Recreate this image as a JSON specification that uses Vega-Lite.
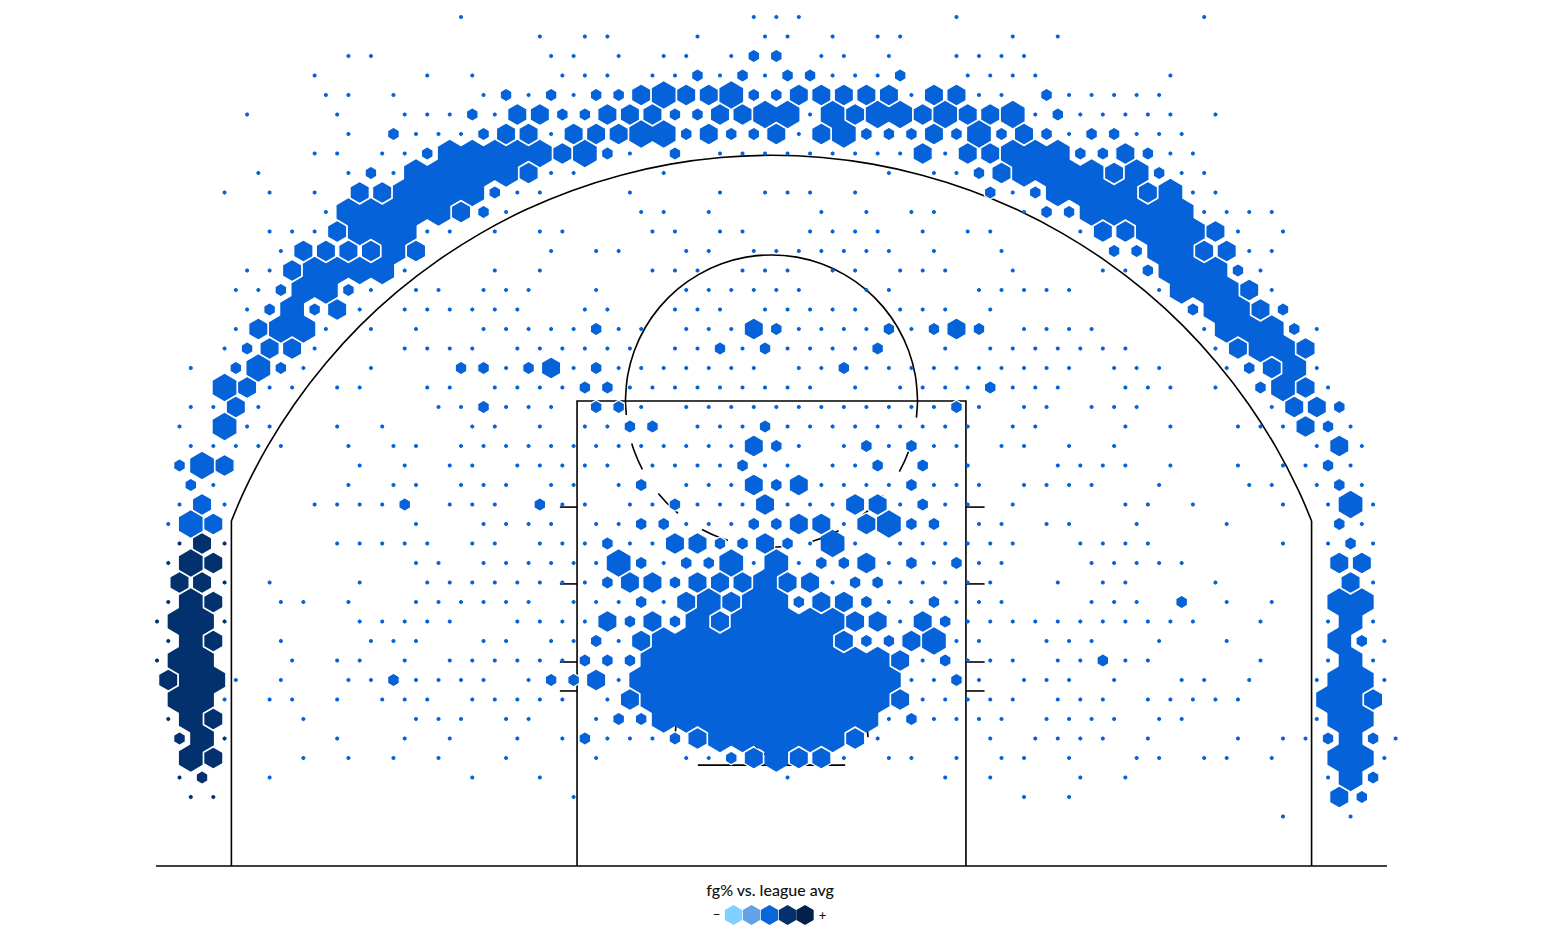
{"$schema":"https://vega.github.io/schema/vega-lite/v6.json","width":1541,"height":945,"padding":0,"autosize":{"type":"none"},"background":"#ffffff","view":{"stroke":null},
"datasets":{
"court":[
{"part":"base","o":0,"x":-25.07,"y":0},{"part":"base","o":1,"x":25.07,"y":0},
{"part":"paint","o":0,"x":-7.92,"y":0},{"part":"paint","o":1,"x":-7.92,"y":18.94},{"part":"paint","o":2,"x":7.92,"y":18.94},{"part":"paint","o":3,"x":7.92,"y":0},
{"part":"board","o":0,"x":-3,"y":4.11},{"part":"board","o":1,"x":3,"y":4.11},
{"part":"t1","o":0,"x":-8.62,"y":14.62},{"part":"t1","o":1,"x":-7.92,"y":14.62},{"part":"t2","o":0,"x":-8.62,"y":11.49},{"part":"t2","o":1,"x":-7.92,"y":11.49},{"part":"t3","o":0,"x":-8.62,"y":8.31},{"part":"t3","o":1,"x":-7.92,"y":8.31},{"part":"t4","o":0,"x":-8.62,"y":7.13},{"part":"t4","o":1,"x":-7.92,"y":7.13},
{"part":"t5","o":0,"x":7.92,"y":14.62},{"part":"t5","o":1,"x":8.68,"y":14.62},{"part":"t6","o":0,"x":7.92,"y":11.49},{"part":"t6","o":1,"x":8.68,"y":11.49},{"part":"t7","o":0,"x":7.92,"y":8.31},{"part":"t7","o":1,"x":8.68,"y":8.31},{"part":"t8","o":0,"x":7.92,"y":7.13},{"part":"t8","o":1,"x":8.68,"y":7.13},
{"part":"cl","o":0,"x":-22,"y":0},{"part":"cl","o":1,"x":-22,"y":14.05},{"part":"cr","o":0,"x":22,"y":0},{"part":"cr","o":1,"x":22,"y":14.05}
],
"curves":[
{"part":"arc","o":1,"x":-22,"y":14.05},{"part":"arc","o":2,"x":-21.48,"y":15.27},{"part":"arc","o":3,"x":-20.525,"y":17.1},{"part":"arc","o":4,"x":-19.414,"y":18.84},{"part":"arc","o":5,"x":-18.155,"y":20.48},{"part":"arc","o":6,"x":-16.758,"y":22.01},{"part":"arc","o":7,"x":-15.234,"y":23.405},{"part":"arc","o":8,"x":-13.594,"y":24.66},{"part":"arc","o":9,"x":-11.85,"y":25.77},{"part":"arc","o":10,"x":-10.016,"y":26.73},{"part":"arc","o":11,"x":-8.106,"y":27.52},{"part":"arc","o":12,"x":-6.134,"y":28.14},{"part":"arc","o":13,"x":-4.115,"y":28.59},{"part":"arc","o":14,"x":-2.066,"y":28.86},{"part":"arc","o":15,"x":0,"y":28.95},{"part":"arc","o":16,"x":2.066,"y":28.86},{"part":"arc","o":17,"x":4.115,"y":28.59},{"part":"arc","o":18,"x":6.134,"y":28.14},{"part":"arc","o":19,"x":8.106,"y":27.52},{"part":"arc","o":20,"x":10.016,"y":26.73},{"part":"arc","o":21,"x":11.85,"y":25.77},{"part":"arc","o":22,"x":13.594,"y":24.66},{"part":"arc","o":23,"x":15.234,"y":23.405},{"part":"arc","o":24,"x":16.758,"y":22.01},{"part":"arc","o":25,"x":18.155,"y":20.48},{"part":"arc","o":26,"x":19.414,"y":18.84},{"part":"arc","o":27,"x":20.525,"y":17.1},{"part":"arc","o":28,"x":21.48,"y":15.27},{"part":"arc","o":29,"x":22,"y":14.05},
{"part":"ftup","o":0,"x":-5.95,"y":18.94},{"part":"ftup","o":1,"x":-5.86,"y":19.97},{"part":"ftup","o":2,"x":-5.591,"y":20.975},{"part":"ftup","o":3,"x":-5.153,"y":21.915},{"part":"ftup","o":4,"x":-4.558,"y":22.765},{"part":"ftup","o":5,"x":-3.825,"y":23.5},{"part":"ftup","o":6,"x":-2.975,"y":24.09},{"part":"ftup","o":7,"x":-2.035,"y":24.53},{"part":"ftup","o":8,"x":-1.033,"y":24.8},{"part":"ftup","o":9,"x":0,"y":24.89},{"part":"ftup","o":10,"x":1.033,"y":24.8},{"part":"ftup","o":11,"x":2.035,"y":24.53},{"part":"ftup","o":12,"x":2.975,"y":24.09},{"part":"ftup","o":13,"x":3.825,"y":23.5},{"part":"ftup","o":14,"x":4.558,"y":22.765},{"part":"ftup","o":15,"x":5.153,"y":21.915},{"part":"ftup","o":16,"x":5.591,"y":20.975},{"part":"ftup","o":17,"x":5.86,"y":19.97},{"part":"ftup","o":18,"x":5.95,"y":18.94},
{"part":"ra","o":0,"x":-3.93,"y":5.25},{"part":"ra","o":1,"x":-3.8,"y":6.27},{"part":"ra","o":2,"x":-3.4,"y":7.22},{"part":"ra","o":3,"x":-2.78,"y":8.03},{"part":"ra","o":4,"x":-1.97,"y":8.65},{"part":"ra","o":5,"x":-1.02,"y":9.05},{"part":"ra","o":6,"x":0,"y":9.18},{"part":"ra","o":7,"x":1.02,"y":9.05},{"part":"ra","o":8,"x":1.97,"y":8.65},{"part":"ra","o":9,"x":2.78,"y":8.03},{"part":"ra","o":10,"x":3.4,"y":7.22},{"part":"ra","o":11,"x":3.8,"y":6.27},{"part":"ra","o":12,"x":3.93,"y":5.25},
{"part":"rim","o":0,"x":-0.75,"y":5.25},{"part":"rim","o":1,"x":-0.65,"y":4.88},{"part":"rim","o":2,"x":-0.38,"y":4.6},{"part":"rim","o":3,"x":0,"y":4.5},{"part":"rim","o":4,"x":0.38,"y":4.6},{"part":"rim","o":5,"x":0.65,"y":4.88},{"part":"rim","o":6,"x":0.75,"y":5.25}
],
"lower":[{"o":0,"x":-5.95,"y":18.94},{"o":1,"x":-5.86,"y":17.91},{"o":2,"x":-5.591,"y":16.905},{"o":3,"x":-5.153,"y":15.965},{"o":4,"x":-4.558,"y":15.115},{"o":5,"x":-3.825,"y":14.38},{"o":6,"x":-2.975,"y":13.79},{"o":7,"x":-2.035,"y":13.35},{"o":8,"x":-1.033,"y":13.08},{"o":9,"x":0,"y":12.99},{"o":10,"x":1.033,"y":13.08},{"o":11,"x":2.035,"y":13.35},{"o":12,"x":2.975,"y":13.79},{"o":13,"x":3.825,"y":14.38},{"o":14,"x":4.558,"y":15.115},{"o":15,"x":5.153,"y":15.965},{"o":16,"x":5.591,"y":16.905},{"o":17,"x":5.86,"y":17.91},{"o":18,"x":5.95,"y":18.94}],
"key":[{"x":51.2,"y":46.05,"p":1},{"x":52.8,"y":46.05,"p":2},{"x":54.4,"y":46.05,"p":3},{"x":56,"y":46.05,"p":4},{"x":57.55,"y":46.05,"p":5}],
"labels":[{"x":54.45,"y":44.82,"t":"fg% vs. league avg","z":16},{"x":49.7,"y":46.05,"t":"–","z":14},{"x":59.1,"y":46.1,"t":"+","z":13}],
"hex":[
{"x":27,"y":0,"n":1},{"x":53,"y":0,"n":1},{"x":55,"y":0,"n":1},{"x":57,"y":0,"n":1},{"x":71,"y":0,"n":1},{"x":93,"y":0,"n":1},
{"x":34,"y":1,"n":1},{"x":38,"y":1,"n":1},{"x":40,"y":1,"n":1},{"x":48,"y":1,"n":1},{"x":54,"y":1,"n":1},{"x":56,"y":1,"n":1},{"x":60,"y":1,"n":1},{"x":64,"y":1,"n":1},{"x":66,"y":1,"n":1},{"x":76,"y":1,"n":1},{"x":80,"y":1,"n":1},
{"x":17,"y":2,"n":1},{"x":19,"y":2,"n":1},{"x":35,"y":2,"n":1},{"x":37,"y":2,"n":1},{"x":41,"y":2,"n":1},{"x":45,"y":2,"n":1},{"x":47,"y":2,"n":1},{"x":51,"y":2,"n":1},{"x":53,"y":2,"n":2},{"x":55,"y":2,"n":2},{"x":59,"y":2,"n":1},{"x":61,"y":2,"n":1},{"x":65,"y":2,"n":1},{"x":71,"y":2,"n":1},{"x":73,"y":2,"n":1},{"x":75,"y":2,"n":1},{"x":77,"y":2,"n":1},
{"x":14,"y":3,"n":1},{"x":24,"y":3,"n":1},{"x":28,"y":3,"n":1},{"x":36,"y":3,"n":1},{"x":38,"y":3,"n":1},{"x":40,"y":3,"n":1},{"x":44,"y":3,"n":1},{"x":46,"y":3,"n":1},{"x":48,"y":3,"n":2},{"x":50,"y":3,"n":1},{"x":52,"y":3,"n":2},{"x":54,"y":3,"n":1},{"x":56,"y":3,"n":2},{"x":58,"y":3,"n":2},{"x":60,"y":3,"n":1},{"x":62,"y":3,"n":1},{"x":64,"y":3,"n":1},{"x":66,"y":3,"n":2},{"x":72,"y":3,"n":1},{"x":74,"y":3,"n":1},{"x":76,"y":3,"n":1},{"x":78,"y":3,"n":1},{"x":90,"y":3,"n":1},
{"x":15,"y":4,"n":1},{"x":17,"y":4,"n":1},{"x":21,"y":4,"n":1},{"x":29,"y":4,"n":1},{"x":31,"y":4,"n":2},{"x":33,"y":4,"n":1},{"x":35,"y":4,"n":2},{"x":37,"y":4,"n":1},{"x":39,"y":4,"n":2},{"x":41,"y":4,"n":2},{"x":43,"y":4,"n":3},{"x":45,"y":4,"n":4},{"x":47,"y":4,"n":3},{"x":49,"y":4,"n":3},{"x":51,"y":4,"n":4},{"x":53,"y":4,"n":2},{"x":55,"y":4,"n":2},{"x":57,"y":4,"n":3},{"x":59,"y":4,"n":3},{"x":61,"y":4,"n":3},{"x":63,"y":4,"n":3},{"x":65,"y":4,"n":3},{"x":67,"y":4,"n":1},{"x":69,"y":4,"n":3},{"x":71,"y":4,"n":3},{"x":73,"y":4,"n":1},{"x":75,"y":4,"n":1},{"x":79,"y":4,"n":2},{"x":81,"y":4,"n":1},{"x":83,"y":4,"n":1},{"x":85,"y":4,"n":1},{"x":87,"y":4,"n":1},{"x":89,"y":4,"n":1},
{"x":8,"y":5,"n":1},{"x":16,"y":5,"n":1},{"x":22,"y":5,"n":1},{"x":24,"y":5,"n":1},{"x":26,"y":5,"n":1},{"x":28,"y":5,"n":2},{"x":30,"y":5,"n":1},{"x":32,"y":5,"n":3},{"x":34,"y":5,"n":3},{"x":36,"y":5,"n":2},{"x":38,"y":5,"n":2},{"x":40,"y":5,"n":3},{"x":42,"y":5,"n":3},{"x":44,"y":5,"n":3},{"x":46,"y":5,"n":2},{"x":48,"y":5,"n":2},{"x":50,"y":5,"n":3},{"x":52,"y":5,"n":3},{"x":54,"y":5,"n":4},{"x":56,"y":5,"n":4},{"x":58,"y":5,"n":1},{"x":60,"y":5,"n":4},{"x":62,"y":5,"n":3},{"x":64,"y":5,"n":4},{"x":66,"y":5,"n":4},{"x":68,"y":5,"n":3},{"x":70,"y":5,"n":4},{"x":72,"y":5,"n":3},{"x":74,"y":5,"n":3},{"x":76,"y":5,"n":4},{"x":78,"y":5,"n":1},{"x":80,"y":5,"n":2},{"x":82,"y":5,"n":1},{"x":84,"y":5,"n":1},{"x":86,"y":5,"n":1},{"x":88,"y":5,"n":1},{"x":90,"y":5,"n":1},{"x":94,"y":5,"n":1},
{"x":17,"y":6,"n":1},{"x":21,"y":6,"n":2},{"x":23,"y":6,"n":1},{"x":25,"y":6,"n":1},{"x":27,"y":6,"n":1},{"x":29,"y":6,"n":2},{"x":31,"y":6,"n":3},{"x":33,"y":6,"n":3},{"x":35,"y":6,"n":1},{"x":37,"y":6,"n":3},{"x":39,"y":6,"n":3},{"x":41,"y":6,"n":3},{"x":43,"y":6,"n":4},{"x":45,"y":6,"n":4},{"x":47,"y":6,"n":2},{"x":49,"y":6,"n":3},{"x":51,"y":6,"n":2},{"x":53,"y":6,"n":2},{"x":55,"y":6,"n":3},{"x":57,"y":6,"n":1},{"x":59,"y":6,"n":3},{"x":61,"y":6,"n":4},{"x":63,"y":6,"n":2},{"x":65,"y":6,"n":2},{"x":67,"y":6,"n":2},{"x":69,"y":6,"n":3},{"x":71,"y":6,"n":2},{"x":73,"y":6,"n":4},{"x":75,"y":6,"n":2},{"x":77,"y":6,"n":3},{"x":79,"y":6,"n":2},{"x":81,"y":6,"n":1},{"x":83,"y":6,"n":2},{"x":85,"y":6,"n":2},{"x":87,"y":6,"n":1},{"x":89,"y":6,"n":1},{"x":91,"y":6,"n":1},
{"x":14,"y":7,"n":1},{"x":16,"y":7,"n":1},{"x":20,"y":7,"n":1},{"x":22,"y":7,"n":1},{"x":24,"y":7,"n":2},{"x":26,"y":7,"n":4},{"x":28,"y":7,"n":4},{"x":30,"y":7,"n":4},{"x":32,"y":7,"n":4},{"x":34,"y":7,"n":4},{"x":36,"y":7,"n":3},{"x":38,"y":7,"n":4},{"x":40,"y":7,"n":2},{"x":42,"y":7,"n":1},{"x":46,"y":7,"n":2},{"x":50,"y":7,"n":1},{"x":52,"y":7,"n":1},{"x":54,"y":7,"n":1},{"x":56,"y":7,"n":1},{"x":58,"y":7,"n":1},{"x":60,"y":7,"n":1},{"x":62,"y":7,"n":1},{"x":64,"y":7,"n":1},{"x":66,"y":7,"n":1},{"x":68,"y":7,"n":3},{"x":70,"y":7,"n":1},{"x":72,"y":7,"n":3},{"x":74,"y":7,"n":3},{"x":76,"y":7,"n":4},{"x":78,"y":7,"n":4},{"x":80,"y":7,"n":4},{"x":82,"y":7,"n":2},{"x":84,"y":7,"n":2},{"x":86,"y":7,"n":3},{"x":88,"y":7,"n":2},{"x":90,"y":7,"n":1},{"x":92,"y":7,"n":1},
{"x":9,"y":8,"n":1},{"x":17,"y":8,"n":1},{"x":19,"y":8,"n":2},{"x":21,"y":8,"n":1},{"x":23,"y":8,"n":4},{"x":25,"y":8,"n":4},{"x":27,"y":8,"n":4},{"x":29,"y":8,"n":4},{"x":31,"y":8,"n":4},{"x":33,"y":8,"n":3},{"x":35,"y":8,"n":1},{"x":37,"y":8,"n":1},{"x":45,"y":8,"n":1},{"x":65,"y":8,"n":1},{"x":69,"y":8,"n":1},{"x":71,"y":8,"n":1},{"x":73,"y":8,"n":2},{"x":75,"y":8,"n":3},{"x":77,"y":8,"n":4},{"x":79,"y":8,"n":4},{"x":81,"y":8,"n":4},{"x":83,"y":8,"n":4},{"x":85,"y":8,"n":3},{"x":87,"y":8,"n":4},{"x":89,"y":8,"n":2},{"x":91,"y":8,"n":1},{"x":93,"y":8,"n":1},
{"x":6,"y":9,"n":1},{"x":10,"y":9,"n":1},{"x":14,"y":9,"n":1},{"x":18,"y":9,"n":3},{"x":20,"y":9,"n":3},{"x":22,"y":9,"n":4},{"x":24,"y":9,"n":4},{"x":26,"y":9,"n":4},{"x":28,"y":9,"n":4},{"x":30,"y":9,"n":2},{"x":32,"y":9,"n":1},{"x":34,"y":9,"n":1},{"x":42,"y":9,"n":1},{"x":50,"y":9,"n":1},{"x":54,"y":9,"n":1},{"x":56,"y":9,"n":1},{"x":58,"y":9,"n":1},{"x":62,"y":9,"n":1},{"x":74,"y":9,"n":2},{"x":76,"y":9,"n":1},{"x":78,"y":9,"n":2},{"x":80,"y":9,"n":4},{"x":82,"y":9,"n":4},{"x":84,"y":9,"n":4},{"x":86,"y":9,"n":4},{"x":88,"y":9,"n":3},{"x":90,"y":9,"n":4},{"x":92,"y":9,"n":1},{"x":94,"y":9,"n":1},
{"x":15,"y":10,"n":1},{"x":17,"y":10,"n":4},{"x":19,"y":10,"n":4},{"x":21,"y":10,"n":4},{"x":23,"y":10,"n":4},{"x":25,"y":10,"n":4},{"x":27,"y":10,"n":3},{"x":29,"y":10,"n":2},{"x":31,"y":10,"n":1},{"x":43,"y":10,"n":1},{"x":45,"y":10,"n":1},{"x":49,"y":10,"n":1},{"x":59,"y":10,"n":1},{"x":63,"y":10,"n":1},{"x":67,"y":10,"n":1},{"x":69,"y":10,"n":1},{"x":77,"y":10,"n":1},{"x":79,"y":10,"n":2},{"x":81,"y":10,"n":2},{"x":83,"y":10,"n":4},{"x":85,"y":10,"n":4},{"x":87,"y":10,"n":4},{"x":89,"y":10,"n":4},{"x":91,"y":10,"n":4},{"x":93,"y":10,"n":1},{"x":95,"y":10,"n":1},{"x":97,"y":10,"n":1},{"x":99,"y":10,"n":1},
{"x":10,"y":11,"n":1},{"x":12,"y":11,"n":1},{"x":14,"y":11,"n":1},{"x":16,"y":11,"n":3},{"x":18,"y":11,"n":4},{"x":20,"y":11,"n":4},{"x":22,"y":11,"n":4},{"x":24,"y":11,"n":1},{"x":26,"y":11,"n":1},{"x":30,"y":11,"n":1},{"x":34,"y":11,"n":1},{"x":36,"y":11,"n":1},{"x":44,"y":11,"n":1},{"x":46,"y":11,"n":1},{"x":50,"y":11,"n":1},{"x":52,"y":11,"n":1},{"x":58,"y":11,"n":1},{"x":60,"y":11,"n":1},{"x":62,"y":11,"n":1},{"x":64,"y":11,"n":1},{"x":68,"y":11,"n":1},{"x":72,"y":11,"n":1},{"x":74,"y":11,"n":1},{"x":82,"y":11,"n":1},{"x":84,"y":11,"n":3},{"x":86,"y":11,"n":3},{"x":88,"y":11,"n":4},{"x":90,"y":11,"n":4},{"x":92,"y":11,"n":4},{"x":94,"y":11,"n":3},{"x":96,"y":11,"n":1},{"x":100,"y":11,"n":1},
{"x":11,"y":12,"n":1},{"x":13,"y":12,"n":3},{"x":15,"y":12,"n":3},{"x":17,"y":12,"n":3},{"x":19,"y":12,"n":3},{"x":21,"y":12,"n":4},{"x":23,"y":12,"n":3},{"x":35,"y":12,"n":1},{"x":39,"y":12,"n":1},{"x":41,"y":12,"n":1},{"x":47,"y":12,"n":1},{"x":49,"y":12,"n":1},{"x":53,"y":12,"n":1},{"x":55,"y":12,"n":1},{"x":57,"y":12,"n":1},{"x":59,"y":12,"n":1},{"x":61,"y":12,"n":1},{"x":63,"y":12,"n":1},{"x":65,"y":12,"n":1},{"x":69,"y":12,"n":1},{"x":75,"y":12,"n":1},{"x":85,"y":12,"n":2},{"x":87,"y":12,"n":2},{"x":89,"y":12,"n":4},{"x":91,"y":12,"n":4},{"x":93,"y":12,"n":3},{"x":95,"y":12,"n":3},{"x":97,"y":12,"n":1},{"x":99,"y":12,"n":1},
{"x":8,"y":13,"n":1},{"x":10,"y":13,"n":1},{"x":12,"y":13,"n":3},{"x":14,"y":13,"n":4},{"x":16,"y":13,"n":4},{"x":18,"y":13,"n":4},{"x":20,"y":13,"n":4},{"x":22,"y":13,"n":1},{"x":30,"y":13,"n":1},{"x":34,"y":13,"n":1},{"x":44,"y":13,"n":1},{"x":46,"y":13,"n":1},{"x":48,"y":13,"n":1},{"x":52,"y":13,"n":1},{"x":54,"y":13,"n":1},{"x":56,"y":13,"n":1},{"x":60,"y":13,"n":1},{"x":62,"y":13,"n":1},{"x":66,"y":13,"n":1},{"x":68,"y":13,"n":1},{"x":70,"y":13,"n":1},{"x":76,"y":13,"n":1},{"x":84,"y":13,"n":1},{"x":86,"y":13,"n":1},{"x":88,"y":13,"n":2},{"x":90,"y":13,"n":4},{"x":92,"y":13,"n":4},{"x":94,"y":13,"n":4},{"x":96,"y":13,"n":2},{"x":98,"y":13,"n":1},
{"x":7,"y":14,"n":1},{"x":9,"y":14,"n":1},{"x":11,"y":14,"n":2},{"x":13,"y":14,"n":4},{"x":15,"y":14,"n":4},{"x":17,"y":14,"n":2},{"x":19,"y":14,"n":1},{"x":23,"y":14,"n":1},{"x":25,"y":14,"n":1},{"x":29,"y":14,"n":1},{"x":31,"y":14,"n":1},{"x":33,"y":14,"n":1},{"x":39,"y":14,"n":1},{"x":47,"y":14,"n":1},{"x":49,"y":14,"n":1},{"x":51,"y":14,"n":1},{"x":53,"y":14,"n":1},{"x":55,"y":14,"n":1},{"x":57,"y":14,"n":1},{"x":63,"y":14,"n":1},{"x":65,"y":14,"n":1},{"x":73,"y":14,"n":1},{"x":75,"y":14,"n":1},{"x":77,"y":14,"n":1},{"x":79,"y":14,"n":1},{"x":81,"y":14,"n":1},{"x":89,"y":14,"n":1},{"x":91,"y":14,"n":4},{"x":93,"y":14,"n":4},{"x":95,"y":14,"n":4},{"x":97,"y":14,"n":3},{"x":99,"y":14,"n":1},
{"x":8,"y":15,"n":1},{"x":10,"y":15,"n":2},{"x":12,"y":15,"n":4},{"x":14,"y":15,"n":2},{"x":16,"y":15,"n":3},{"x":18,"y":15,"n":1},{"x":22,"y":15,"n":1},{"x":24,"y":15,"n":1},{"x":26,"y":15,"n":1},{"x":28,"y":15,"n":1},{"x":30,"y":15,"n":1},{"x":32,"y":15,"n":1},{"x":38,"y":15,"n":1},{"x":40,"y":15,"n":1},{"x":46,"y":15,"n":1},{"x":48,"y":15,"n":1},{"x":50,"y":15,"n":1},{"x":54,"y":15,"n":1},{"x":56,"y":15,"n":1},{"x":58,"y":15,"n":1},{"x":60,"y":15,"n":1},{"x":62,"y":15,"n":1},{"x":66,"y":15,"n":1},{"x":68,"y":15,"n":1},{"x":70,"y":15,"n":1},{"x":74,"y":15,"n":1},{"x":92,"y":15,"n":2},{"x":94,"y":15,"n":4},{"x":96,"y":15,"n":4},{"x":98,"y":15,"n":3},{"x":100,"y":15,"n":2},
{"x":7,"y":16,"n":1},{"x":9,"y":16,"n":3},{"x":11,"y":16,"n":4},{"x":13,"y":16,"n":4},{"x":15,"y":16,"n":1},{"x":19,"y":16,"n":1},{"x":23,"y":16,"n":1},{"x":29,"y":16,"n":1},{"x":31,"y":16,"n":1},{"x":33,"y":16,"n":1},{"x":35,"y":16,"n":1},{"x":37,"y":16,"n":1},{"x":39,"y":16,"n":2},{"x":41,"y":16,"n":1},{"x":43,"y":16,"n":1},{"x":47,"y":16,"n":1},{"x":49,"y":16,"n":1},{"x":51,"y":16,"n":1},{"x":53,"y":16,"n":3},{"x":55,"y":16,"n":2},{"x":57,"y":16,"n":1},{"x":59,"y":16,"n":1},{"x":61,"y":16,"n":1},{"x":63,"y":16,"n":1},{"x":65,"y":16,"n":2},{"x":67,"y":16,"n":1},{"x":69,"y":16,"n":2},{"x":71,"y":16,"n":3},{"x":73,"y":16,"n":2},{"x":77,"y":16,"n":1},{"x":79,"y":16,"n":1},{"x":81,"y":16,"n":1},{"x":83,"y":16,"n":1},{"x":93,"y":16,"n":1},{"x":95,"y":16,"n":4},{"x":97,"y":16,"n":4},{"x":99,"y":16,"n":4},{"x":101,"y":16,"n":2},{"x":103,"y":16,"n":1},
{"x":6,"y":17,"n":1},{"x":8,"y":17,"n":2},{"x":10,"y":17,"n":3},{"x":12,"y":17,"n":3},{"x":14,"y":17,"n":1},{"x":22,"y":17,"n":1},{"x":24,"y":17,"n":1},{"x":26,"y":17,"n":1},{"x":28,"y":17,"n":1},{"x":32,"y":17,"n":1},{"x":34,"y":17,"n":1},{"x":36,"y":17,"n":1},{"x":38,"y":17,"n":1},{"x":40,"y":17,"n":1},{"x":42,"y":17,"n":1},{"x":46,"y":17,"n":1},{"x":48,"y":17,"n":1},{"x":50,"y":17,"n":2},{"x":52,"y":17,"n":1},{"x":54,"y":17,"n":2},{"x":56,"y":17,"n":1},{"x":58,"y":17,"n":1},{"x":60,"y":17,"n":1},{"x":62,"y":17,"n":1},{"x":64,"y":17,"n":2},{"x":70,"y":17,"n":1},{"x":74,"y":17,"n":1},{"x":76,"y":17,"n":1},{"x":78,"y":17,"n":1},{"x":80,"y":17,"n":1},{"x":82,"y":17,"n":1},{"x":84,"y":17,"n":1},{"x":86,"y":17,"n":1},{"x":94,"y":17,"n":1},{"x":96,"y":17,"n":3},{"x":98,"y":17,"n":4},{"x":100,"y":17,"n":4},{"x":102,"y":17,"n":3},
{"x":3,"y":18,"n":1},{"x":7,"y":18,"n":2},{"x":9,"y":18,"n":4},{"x":11,"y":18,"n":2},{"x":13,"y":18,"n":1},{"x":19,"y":18,"n":1},{"x":27,"y":18,"n":2},{"x":29,"y":18,"n":2},{"x":31,"y":18,"n":1},{"x":33,"y":18,"n":2},{"x":35,"y":18,"n":3},{"x":37,"y":18,"n":1},{"x":39,"y":18,"n":2},{"x":41,"y":18,"n":1},{"x":43,"y":18,"n":1},{"x":45,"y":18,"n":1},{"x":47,"y":18,"n":1},{"x":49,"y":18,"n":1},{"x":51,"y":18,"n":1},{"x":53,"y":18,"n":1},{"x":57,"y":18,"n":1},{"x":59,"y":18,"n":1},{"x":61,"y":18,"n":2},{"x":63,"y":18,"n":1},{"x":65,"y":18,"n":1},{"x":67,"y":18,"n":1},{"x":69,"y":18,"n":1},{"x":71,"y":18,"n":1},{"x":73,"y":18,"n":1},{"x":75,"y":18,"n":1},{"x":77,"y":18,"n":1},{"x":79,"y":18,"n":1},{"x":81,"y":18,"n":1},{"x":85,"y":18,"n":1},{"x":87,"y":18,"n":1},{"x":89,"y":18,"n":1},{"x":95,"y":18,"n":1},{"x":97,"y":18,"n":2},{"x":99,"y":18,"n":3},{"x":101,"y":18,"n":4},{"x":103,"y":18,"n":1},
{"x":6,"y":19,"n":4},{"x":8,"y":19,"n":3},{"x":10,"y":19,"n":1},{"x":12,"y":19,"n":1},{"x":16,"y":19,"n":1},{"x":18,"y":19,"n":1},{"x":24,"y":19,"n":1},{"x":26,"y":19,"n":1},{"x":30,"y":19,"n":1},{"x":32,"y":19,"n":1},{"x":34,"y":19,"n":1},{"x":36,"y":19,"n":1},{"x":38,"y":19,"n":2},{"x":40,"y":19,"n":2},{"x":42,"y":19,"n":1},{"x":44,"y":19,"n":1},{"x":46,"y":19,"n":1},{"x":48,"y":19,"n":1},{"x":50,"y":19,"n":1},{"x":52,"y":19,"n":1},{"x":54,"y":19,"n":1},{"x":56,"y":19,"n":1},{"x":58,"y":19,"n":1},{"x":62,"y":19,"n":1},{"x":66,"y":19,"n":1},{"x":68,"y":19,"n":1},{"x":70,"y":19,"n":1},{"x":72,"y":19,"n":1},{"x":74,"y":19,"n":2},{"x":76,"y":19,"n":1},{"x":78,"y":19,"n":1},{"x":80,"y":19,"n":1},{"x":86,"y":19,"n":1},{"x":88,"y":19,"n":1},{"x":90,"y":19,"n":1},{"x":94,"y":19,"n":1},{"x":98,"y":19,"n":2},{"x":100,"y":19,"n":4},{"x":102,"y":19,"n":3},{"x":104,"y":19,"n":1},
{"x":3,"y":20,"n":1},{"x":5,"y":20,"n":1},{"x":7,"y":20,"n":3},{"x":9,"y":20,"n":1},{"x":25,"y":20,"n":1},{"x":27,"y":20,"n":1},{"x":29,"y":20,"n":2},{"x":31,"y":20,"n":1},{"x":33,"y":20,"n":1},{"x":35,"y":20,"n":1},{"x":39,"y":20,"n":2},{"x":41,"y":20,"n":2},{"x":43,"y":20,"n":1},{"x":47,"y":20,"n":1},{"x":49,"y":20,"n":1},{"x":51,"y":20,"n":1},{"x":53,"y":20,"n":1},{"x":55,"y":20,"n":1},{"x":57,"y":20,"n":1},{"x":59,"y":20,"n":1},{"x":61,"y":20,"n":1},{"x":63,"y":20,"n":1},{"x":65,"y":20,"n":1},{"x":67,"y":20,"n":1},{"x":69,"y":20,"n":1},{"x":71,"y":20,"n":2},{"x":73,"y":20,"n":1},{"x":77,"y":20,"n":1},{"x":79,"y":20,"n":1},{"x":83,"y":20,"n":1},{"x":85,"y":20,"n":1},{"x":87,"y":20,"n":1},{"x":99,"y":20,"n":1},{"x":101,"y":20,"n":3},{"x":103,"y":20,"n":3},{"x":105,"y":20,"n":2},
{"x":2,"y":21,"n":1},{"x":6,"y":21,"n":4},{"x":8,"y":21,"n":1},{"x":10,"y":21,"n":1},{"x":16,"y":21,"n":1},{"x":20,"y":21,"n":1},{"x":28,"y":21,"n":1},{"x":30,"y":21,"n":1},{"x":34,"y":21,"n":1},{"x":38,"y":21,"n":1},{"x":40,"y":21,"n":1},{"x":42,"y":21,"n":2},{"x":44,"y":21,"n":2},{"x":48,"y":21,"n":1},{"x":50,"y":21,"n":1},{"x":52,"y":21,"n":1},{"x":54,"y":21,"n":2},{"x":56,"y":21,"n":1},{"x":58,"y":21,"n":1},{"x":60,"y":21,"n":1},{"x":62,"y":21,"n":1},{"x":64,"y":21,"n":1},{"x":66,"y":21,"n":1},{"x":68,"y":21,"n":1},{"x":70,"y":21,"n":1},{"x":72,"y":21,"n":1},{"x":76,"y":21,"n":1},{"x":78,"y":21,"n":1},{"x":86,"y":21,"n":1},{"x":90,"y":21,"n":1},{"x":96,"y":21,"n":1},{"x":98,"y":21,"n":1},{"x":100,"y":21,"n":1},{"x":102,"y":21,"n":3},{"x":104,"y":21,"n":2},{"x":106,"y":21,"n":1},
{"x":3,"y":22,"n":1},{"x":5,"y":22,"n":1},{"x":7,"y":22,"n":1},{"x":9,"y":22,"n":1},{"x":11,"y":22,"n":1},{"x":17,"y":22,"n":1},{"x":21,"y":22,"n":1},{"x":23,"y":22,"n":1},{"x":27,"y":22,"n":1},{"x":29,"y":22,"n":1},{"x":31,"y":22,"n":1},{"x":33,"y":22,"n":1},{"x":35,"y":22,"n":1},{"x":37,"y":22,"n":1},{"x":39,"y":22,"n":1},{"x":41,"y":22,"n":1},{"x":43,"y":22,"n":1},{"x":45,"y":22,"n":1},{"x":47,"y":22,"n":1},{"x":49,"y":22,"n":1},{"x":51,"y":22,"n":1},{"x":53,"y":22,"n":3},{"x":55,"y":22,"n":2},{"x":57,"y":22,"n":1},{"x":61,"y":22,"n":1},{"x":63,"y":22,"n":2},{"x":65,"y":22,"n":1},{"x":67,"y":22,"n":2},{"x":69,"y":22,"n":1},{"x":71,"y":22,"n":1},{"x":75,"y":22,"n":1},{"x":77,"y":22,"n":1},{"x":81,"y":22,"n":1},{"x":85,"y":22,"n":1},{"x":103,"y":22,"n":1},{"x":105,"y":22,"n":3},{"x":107,"y":22,"n":1},
{"x":2,"y":23,"n":2},{"x":4,"y":23,"n":4},{"x":6,"y":23,"n":3},{"x":18,"y":23,"n":1},{"x":22,"y":23,"n":1},{"x":26,"y":23,"n":1},{"x":28,"y":23,"n":1},{"x":32,"y":23,"n":1},{"x":34,"y":23,"n":1},{"x":36,"y":23,"n":1},{"x":38,"y":23,"n":1},{"x":40,"y":23,"n":1},{"x":44,"y":23,"n":1},{"x":46,"y":23,"n":1},{"x":48,"y":23,"n":1},{"x":50,"y":23,"n":1},{"x":52,"y":23,"n":2},{"x":54,"y":23,"n":1},{"x":56,"y":23,"n":1},{"x":60,"y":23,"n":1},{"x":62,"y":23,"n":1},{"x":64,"y":23,"n":2},{"x":68,"y":23,"n":2},{"x":72,"y":23,"n":1},{"x":80,"y":23,"n":1},{"x":82,"y":23,"n":1},{"x":84,"y":23,"n":1},{"x":86,"y":23,"n":1},{"x":90,"y":23,"n":1},{"x":96,"y":23,"n":1},{"x":100,"y":23,"n":1},{"x":102,"y":23,"n":1},{"x":104,"y":23,"n":2},{"x":106,"y":23,"n":1},
{"x":3,"y":24,"n":2},{"x":5,"y":24,"n":1},{"x":17,"y":24,"n":1},{"x":21,"y":24,"n":1},{"x":23,"y":24,"n":1},{"x":27,"y":24,"n":1},{"x":29,"y":24,"n":1},{"x":31,"y":24,"n":1},{"x":35,"y":24,"n":1},{"x":37,"y":24,"n":1},{"x":41,"y":24,"n":1},{"x":43,"y":24,"n":2},{"x":47,"y":24,"n":1},{"x":49,"y":24,"n":1},{"x":51,"y":24,"n":1},{"x":53,"y":24,"n":3},{"x":55,"y":24,"n":2},{"x":57,"y":24,"n":3},{"x":59,"y":24,"n":1},{"x":61,"y":24,"n":1},{"x":63,"y":24,"n":1},{"x":65,"y":24,"n":1},{"x":67,"y":24,"n":2},{"x":69,"y":24,"n":1},{"x":71,"y":24,"n":1},{"x":73,"y":24,"n":1},{"x":77,"y":24,"n":1},{"x":79,"y":24,"n":1},{"x":81,"y":24,"n":1},{"x":83,"y":24,"n":1},{"x":89,"y":24,"n":1},{"x":97,"y":24,"n":1},{"x":99,"y":24,"n":1},{"x":103,"y":24,"n":1},{"x":105,"y":24,"n":2},{"x":107,"y":24,"n":1},
{"x":2,"y":25,"n":1},{"x":4,"y":25,"n":3},{"x":6,"y":25,"n":1},{"x":14,"y":25,"n":1},{"x":16,"y":25,"n":1},{"x":18,"y":25,"n":1},{"x":20,"y":25,"n":1},{"x":22,"y":25,"n":2},{"x":26,"y":25,"n":1},{"x":28,"y":25,"n":1},{"x":30,"y":25,"n":1},{"x":34,"y":25,"n":2},{"x":36,"y":25,"n":1},{"x":38,"y":25,"n":1},{"x":42,"y":25,"n":1},{"x":44,"y":25,"n":1},{"x":46,"y":25,"n":2},{"x":48,"y":25,"n":1},{"x":50,"y":25,"n":1},{"x":52,"y":25,"n":1},{"x":54,"y":25,"n":3},{"x":56,"y":25,"n":1},{"x":58,"y":25,"n":1},{"x":60,"y":25,"n":1},{"x":62,"y":25,"n":3},{"x":64,"y":25,"n":3},{"x":66,"y":25,"n":1},{"x":68,"y":25,"n":2},{"x":70,"y":25,"n":1},{"x":72,"y":25,"n":1},{"x":76,"y":25,"n":1},{"x":86,"y":25,"n":1},{"x":88,"y":25,"n":1},{"x":92,"y":25,"n":1},{"x":100,"y":25,"n":1},{"x":104,"y":25,"n":1},{"x":106,"y":25,"n":4},{"x":108,"y":25,"n":1},
{"x":1,"y":26,"n":1},{"x":3,"y":26,"n":4},{"x":5,"y":26,"n":3},{"x":23,"y":26,"n":1},{"x":29,"y":26,"n":1},{"x":31,"y":26,"n":1},{"x":33,"y":26,"n":1},{"x":35,"y":26,"n":1},{"x":39,"y":26,"n":1},{"x":41,"y":26,"n":1},{"x":43,"y":26,"n":2},{"x":45,"y":26,"n":2},{"x":47,"y":26,"n":1},{"x":49,"y":26,"n":1},{"x":51,"y":26,"n":1},{"x":53,"y":26,"n":2},{"x":55,"y":26,"n":2},{"x":57,"y":26,"n":3},{"x":59,"y":26,"n":3},{"x":61,"y":26,"n":1},{"x":63,"y":26,"n":3},{"x":65,"y":26,"n":4},{"x":67,"y":26,"n":2},{"x":69,"y":26,"n":2},{"x":73,"y":26,"n":1},{"x":75,"y":26,"n":1},{"x":79,"y":26,"n":1},{"x":81,"y":26,"n":1},{"x":87,"y":26,"n":1},{"x":95,"y":26,"n":1},{"x":105,"y":26,"n":2},{"x":107,"y":26,"n":1},
{"x":2,"y":27,"n":1,"p":4},{"x":4,"y":27,"n":3,"p":4},{"x":6,"y":27,"n":1,"p":4},{"x":16,"y":27,"n":1},{"x":18,"y":27,"n":1},{"x":20,"y":27,"n":1},{"x":22,"y":27,"n":1},{"x":24,"y":27,"n":1},{"x":28,"y":27,"n":1},{"x":30,"y":27,"n":1},{"x":34,"y":27,"n":1},{"x":36,"y":27,"n":1},{"x":38,"y":27,"n":1},{"x":40,"y":27,"n":2},{"x":42,"y":27,"n":1},{"x":44,"y":27,"n":1},{"x":46,"y":27,"n":3},{"x":48,"y":27,"n":3},{"x":50,"y":27,"n":2},{"x":52,"y":27,"n":2},{"x":54,"y":27,"n":3},{"x":56,"y":27,"n":2},{"x":58,"y":27,"n":1},{"x":60,"y":27,"n":4},{"x":62,"y":27,"n":1},{"x":66,"y":27,"n":1},{"x":68,"y":27,"n":1},{"x":70,"y":27,"n":1},{"x":72,"y":27,"n":1},{"x":74,"y":27,"n":1},{"x":76,"y":27,"n":1},{"x":82,"y":27,"n":1},{"x":84,"y":27,"n":1},{"x":86,"y":27,"n":1},{"x":88,"y":27,"n":1},{"x":100,"y":27,"n":1},{"x":104,"y":27,"n":1},{"x":106,"y":27,"n":2},{"x":108,"y":27,"n":1},
{"x":1,"y":28,"n":1,"p":4},{"x":3,"y":28,"n":4,"p":4},{"x":5,"y":28,"n":3,"p":4},{"x":23,"y":28,"n":1},{"x":25,"y":28,"n":1},{"x":29,"y":28,"n":1},{"x":31,"y":28,"n":1},{"x":33,"y":28,"n":1},{"x":35,"y":28,"n":1},{"x":37,"y":28,"n":1},{"x":39,"y":28,"n":1},{"x":41,"y":28,"n":4},{"x":43,"y":28,"n":2},{"x":45,"y":28,"n":1},{"x":47,"y":28,"n":2},{"x":49,"y":28,"n":2},{"x":51,"y":28,"n":4},{"x":53,"y":28,"n":1},{"x":55,"y":28,"n":4},{"x":57,"y":28,"n":1},{"x":59,"y":28,"n":2},{"x":61,"y":28,"n":2},{"x":63,"y":28,"n":3},{"x":65,"y":28,"n":1},{"x":67,"y":28,"n":2},{"x":69,"y":28,"n":1},{"x":71,"y":28,"n":2},{"x":73,"y":28,"n":1},{"x":75,"y":28,"n":1},{"x":83,"y":28,"n":1},{"x":85,"y":28,"n":1},{"x":87,"y":28,"n":1},{"x":89,"y":28,"n":1},{"x":91,"y":28,"n":1},{"x":105,"y":28,"n":3},{"x":107,"y":28,"n":3},
{"x":2,"y":29,"n":3,"p":4},{"x":4,"y":29,"n":3,"p":4},{"x":6,"y":29,"n":1,"p":4},{"x":10,"y":29,"n":1},{"x":18,"y":29,"n":1},{"x":24,"y":29,"n":1},{"x":26,"y":29,"n":1},{"x":28,"y":29,"n":1},{"x":30,"y":29,"n":1},{"x":32,"y":29,"n":1},{"x":34,"y":29,"n":1},{"x":36,"y":29,"n":1},{"x":38,"y":29,"n":1},{"x":40,"y":29,"n":2},{"x":42,"y":29,"n":3},{"x":44,"y":29,"n":3},{"x":46,"y":29,"n":2},{"x":48,"y":29,"n":3},{"x":50,"y":29,"n":3},{"x":52,"y":29,"n":3},{"x":54,"y":29,"n":4},{"x":56,"y":29,"n":3},{"x":58,"y":29,"n":3},{"x":60,"y":29,"n":1},{"x":62,"y":29,"n":2},{"x":64,"y":29,"n":2},{"x":66,"y":29,"n":1},{"x":68,"y":29,"n":1},{"x":70,"y":29,"n":1},{"x":72,"y":29,"n":1},{"x":74,"y":29,"n":1},{"x":80,"y":29,"n":1},{"x":84,"y":29,"n":1},{"x":86,"y":29,"n":1},{"x":94,"y":29,"n":1},{"x":106,"y":29,"n":3},{"x":108,"y":29,"n":1},
{"x":1,"y":30,"n":1,"p":4},{"x":3,"y":30,"n":4,"p":4},{"x":5,"y":30,"n":3,"p":4},{"x":11,"y":30,"n":1},{"x":13,"y":30,"n":1},{"x":17,"y":30,"n":1},{"x":23,"y":30,"n":1},{"x":25,"y":30,"n":1},{"x":27,"y":30,"n":1},{"x":29,"y":30,"n":1},{"x":31,"y":30,"n":1},{"x":33,"y":30,"n":1},{"x":37,"y":30,"n":1},{"x":39,"y":30,"n":1},{"x":41,"y":30,"n":1},{"x":43,"y":30,"n":2},{"x":45,"y":30,"n":1},{"x":47,"y":30,"n":3},{"x":49,"y":30,"n":4},{"x":51,"y":30,"n":3},{"x":53,"y":30,"n":4},{"x":55,"y":30,"n":4},{"x":57,"y":30,"n":2},{"x":59,"y":30,"n":3},{"x":61,"y":30,"n":3},{"x":63,"y":30,"n":2},{"x":65,"y":30,"n":1},{"x":67,"y":30,"n":1},{"x":69,"y":30,"n":2},{"x":71,"y":30,"n":1},{"x":73,"y":30,"n":1},{"x":75,"y":30,"n":1},{"x":83,"y":30,"n":1},{"x":85,"y":30,"n":1},{"x":87,"y":30,"n":1},{"x":91,"y":30,"n":2},{"x":95,"y":30,"n":1},{"x":99,"y":30,"n":1},{"x":105,"y":30,"n":4},{"x":107,"y":30,"n":4},
{"x":0,"y":31,"n":1,"p":4},{"x":2,"y":31,"n":4,"p":4},{"x":4,"y":31,"n":4,"p":4},{"x":6,"y":31,"n":1,"p":4},{"x":18,"y":31,"n":1},{"x":20,"y":31,"n":1},{"x":22,"y":31,"n":1},{"x":24,"y":31,"n":1},{"x":26,"y":31,"n":1},{"x":32,"y":31,"n":1},{"x":34,"y":31,"n":1},{"x":36,"y":31,"n":1},{"x":38,"y":31,"n":1},{"x":40,"y":31,"n":3},{"x":42,"y":31,"n":2},{"x":44,"y":31,"n":3},{"x":46,"y":31,"n":2},{"x":48,"y":31,"n":4},{"x":50,"y":31,"n":3},{"x":52,"y":31,"n":4},{"x":54,"y":31,"n":4},{"x":56,"y":31,"n":4},{"x":58,"y":31,"n":4},{"x":60,"y":31,"n":4},{"x":62,"y":31,"n":3},{"x":64,"y":31,"n":3},{"x":66,"y":31,"n":1},{"x":68,"y":31,"n":3},{"x":70,"y":31,"n":2},{"x":72,"y":31,"n":1},{"x":74,"y":31,"n":1},{"x":76,"y":31,"n":1},{"x":78,"y":31,"n":1},{"x":80,"y":31,"n":1},{"x":82,"y":31,"n":1},{"x":84,"y":31,"n":1},{"x":86,"y":31,"n":1},{"x":88,"y":31,"n":1},{"x":90,"y":31,"n":1},{"x":92,"y":31,"n":1},{"x":98,"y":31,"n":1},{"x":104,"y":31,"n":1},{"x":106,"y":31,"n":4},{"x":108,"y":31,"n":1},
{"x":1,"y":32,"n":1,"p":4},{"x":3,"y":32,"n":4,"p":4},{"x":5,"y":32,"n":3,"p":4},{"x":11,"y":32,"n":1},{"x":19,"y":32,"n":1},{"x":21,"y":32,"n":1},{"x":23,"y":32,"n":1},{"x":29,"y":32,"n":1},{"x":31,"y":32,"n":1},{"x":35,"y":32,"n":1},{"x":37,"y":32,"n":1},{"x":39,"y":32,"n":2},{"x":41,"y":32,"n":1},{"x":43,"y":32,"n":3},{"x":45,"y":32,"n":4},{"x":47,"y":32,"n":4},{"x":49,"y":32,"n":4},{"x":51,"y":32,"n":4},{"x":53,"y":32,"n":4},{"x":55,"y":32,"n":4},{"x":57,"y":32,"n":4},{"x":59,"y":32,"n":4},{"x":61,"y":32,"n":3},{"x":63,"y":32,"n":2},{"x":65,"y":32,"n":2},{"x":67,"y":32,"n":3},{"x":69,"y":32,"n":4},{"x":71,"y":32,"n":1},{"x":73,"y":32,"n":1},{"x":79,"y":32,"n":1},{"x":81,"y":32,"n":1},{"x":83,"y":32,"n":1},{"x":89,"y":32,"n":1},{"x":95,"y":32,"n":1},{"x":105,"y":32,"n":4},{"x":107,"y":32,"n":2},{"x":109,"y":32,"n":1},
{"x":0,"y":33,"n":1,"p":4},{"x":2,"y":33,"n":4,"p":4},{"x":4,"y":33,"n":4,"p":4},{"x":12,"y":33,"n":1},{"x":16,"y":33,"n":1},{"x":18,"y":33,"n":1},{"x":22,"y":33,"n":1},{"x":26,"y":33,"n":1},{"x":28,"y":33,"n":1},{"x":30,"y":33,"n":1},{"x":32,"y":33,"n":1},{"x":34,"y":33,"n":1},{"x":36,"y":33,"n":1},{"x":38,"y":33,"n":2},{"x":40,"y":33,"n":2},{"x":42,"y":33,"n":2},{"x":44,"y":33,"n":4},{"x":46,"y":33,"n":4},{"x":48,"y":33,"n":4},{"x":50,"y":33,"n":4},{"x":52,"y":33,"n":4},{"x":54,"y":33,"n":4},{"x":56,"y":33,"n":4},{"x":58,"y":33,"n":4},{"x":60,"y":33,"n":4},{"x":62,"y":33,"n":4},{"x":64,"y":33,"n":4},{"x":66,"y":33,"n":3},{"x":68,"y":33,"n":1},{"x":70,"y":33,"n":2},{"x":72,"y":33,"n":1},{"x":74,"y":33,"n":1},{"x":76,"y":33,"n":1},{"x":80,"y":33,"n":1},{"x":82,"y":33,"n":1},{"x":84,"y":33,"n":2},{"x":86,"y":33,"n":1},{"x":88,"y":33,"n":1},{"x":98,"y":33,"n":1},{"x":104,"y":33,"n":1},{"x":106,"y":33,"n":4},{"x":108,"y":33,"n":1},
{"x":1,"y":34,"n":3,"p":4},{"x":3,"y":34,"n":4,"p":4},{"x":5,"y":34,"n":4,"p":4},{"x":7,"y":34,"n":1},{"x":11,"y":34,"n":1},{"x":17,"y":34,"n":1},{"x":19,"y":34,"n":1},{"x":21,"y":34,"n":2},{"x":23,"y":34,"n":1},{"x":25,"y":34,"n":1},{"x":27,"y":34,"n":1},{"x":29,"y":34,"n":1},{"x":33,"y":34,"n":1},{"x":35,"y":34,"n":2},{"x":37,"y":34,"n":2},{"x":39,"y":34,"n":3},{"x":41,"y":34,"n":1},{"x":43,"y":34,"n":4},{"x":45,"y":34,"n":4},{"x":47,"y":34,"n":4},{"x":49,"y":34,"n":4},{"x":51,"y":34,"n":4},{"x":53,"y":34,"n":4},{"x":55,"y":34,"n":4},{"x":57,"y":34,"n":4},{"x":59,"y":34,"n":4},{"x":61,"y":34,"n":4},{"x":63,"y":34,"n":4},{"x":65,"y":34,"n":4},{"x":67,"y":34,"n":1},{"x":69,"y":34,"n":1},{"x":71,"y":34,"n":2},{"x":73,"y":34,"n":1},{"x":77,"y":34,"n":1},{"x":79,"y":34,"n":1},{"x":81,"y":34,"n":1},{"x":85,"y":34,"n":1},{"x":91,"y":34,"n":1},{"x":93,"y":34,"n":1},{"x":97,"y":34,"n":1},{"x":103,"y":34,"n":1},{"x":105,"y":34,"n":4},{"x":107,"y":34,"n":4},{"x":109,"y":34,"n":1},
{"x":2,"y":35,"n":4,"p":4},{"x":4,"y":35,"n":4,"p":4},{"x":6,"y":35,"n":1},{"x":10,"y":35,"n":1},{"x":12,"y":35,"n":1},{"x":16,"y":35,"n":1},{"x":20,"y":35,"n":1},{"x":22,"y":35,"n":1},{"x":24,"y":35,"n":1},{"x":28,"y":35,"n":1},{"x":30,"y":35,"n":1},{"x":32,"y":35,"n":1},{"x":34,"y":35,"n":1},{"x":36,"y":35,"n":1},{"x":40,"y":35,"n":1},{"x":42,"y":35,"n":3},{"x":44,"y":35,"n":4},{"x":46,"y":35,"n":4},{"x":48,"y":35,"n":4},{"x":50,"y":35,"n":4},{"x":52,"y":35,"n":4},{"x":54,"y":35,"n":4},{"x":56,"y":35,"n":4},{"x":58,"y":35,"n":4},{"x":60,"y":35,"n":4},{"x":62,"y":35,"n":4},{"x":64,"y":35,"n":4},{"x":66,"y":35,"n":3},{"x":68,"y":35,"n":1},{"x":70,"y":35,"n":1},{"x":72,"y":35,"n":1},{"x":74,"y":35,"n":1},{"x":76,"y":35,"n":1},{"x":80,"y":35,"n":1},{"x":82,"y":35,"n":1},{"x":84,"y":35,"n":1},{"x":88,"y":35,"n":1},{"x":90,"y":35,"n":1},{"x":92,"y":35,"n":1},{"x":94,"y":35,"n":1},{"x":96,"y":35,"n":1},{"x":104,"y":35,"n":4},{"x":106,"y":35,"n":4},{"x":108,"y":35,"n":3},
{"x":1,"y":36,"n":1,"p":4},{"x":3,"y":36,"n":4,"p":4},{"x":5,"y":36,"n":3,"p":4},{"x":13,"y":36,"n":1},{"x":23,"y":36,"n":1},{"x":25,"y":36,"n":1},{"x":27,"y":36,"n":1},{"x":31,"y":36,"n":1},{"x":33,"y":36,"n":1},{"x":39,"y":36,"n":1},{"x":41,"y":36,"n":2},{"x":43,"y":36,"n":2},{"x":45,"y":36,"n":4},{"x":47,"y":36,"n":4},{"x":49,"y":36,"n":4},{"x":51,"y":36,"n":4},{"x":53,"y":36,"n":4},{"x":55,"y":36,"n":4},{"x":57,"y":36,"n":4},{"x":59,"y":36,"n":4},{"x":61,"y":36,"n":4},{"x":63,"y":36,"n":4},{"x":65,"y":36,"n":1},{"x":67,"y":36,"n":2},{"x":69,"y":36,"n":1},{"x":71,"y":36,"n":1},{"x":73,"y":36,"n":1},{"x":75,"y":36,"n":1},{"x":79,"y":36,"n":1},{"x":81,"y":36,"n":1},{"x":83,"y":36,"n":1},{"x":85,"y":36,"n":1},{"x":89,"y":36,"n":1},{"x":91,"y":36,"n":1},{"x":103,"y":36,"n":1},{"x":105,"y":36,"n":4},{"x":107,"y":36,"n":4},
{"x":2,"y":37,"n":2,"p":4},{"x":4,"y":37,"n":4,"p":4},{"x":6,"y":37,"n":1,"p":4},{"x":16,"y":37,"n":1},{"x":22,"y":37,"n":1},{"x":26,"y":37,"n":1},{"x":32,"y":37,"n":1},{"x":36,"y":37,"n":1},{"x":38,"y":37,"n":2},{"x":40,"y":37,"n":1},{"x":42,"y":37,"n":1},{"x":44,"y":37,"n":1},{"x":46,"y":37,"n":2},{"x":48,"y":37,"n":3},{"x":50,"y":37,"n":4},{"x":52,"y":37,"n":4},{"x":54,"y":37,"n":4},{"x":56,"y":37,"n":4},{"x":58,"y":37,"n":4},{"x":60,"y":37,"n":4},{"x":62,"y":37,"n":3},{"x":64,"y":37,"n":1},{"x":74,"y":37,"n":1},{"x":78,"y":37,"n":1},{"x":80,"y":37,"n":1},{"x":82,"y":37,"n":1},{"x":84,"y":37,"n":1},{"x":88,"y":37,"n":1},{"x":96,"y":37,"n":1},{"x":100,"y":37,"n":1},{"x":102,"y":37,"n":1},{"x":104,"y":37,"n":2},{"x":106,"y":37,"n":4},{"x":108,"y":37,"n":2},{"x":110,"y":37,"n":1},
{"x":3,"y":38,"n":4,"p":4},{"x":5,"y":38,"n":3,"p":4},{"x":13,"y":38,"n":1},{"x":17,"y":38,"n":1},{"x":21,"y":38,"n":1},{"x":25,"y":38,"n":1},{"x":31,"y":38,"n":1},{"x":39,"y":38,"n":1},{"x":47,"y":38,"n":1},{"x":49,"y":38,"n":1},{"x":51,"y":38,"n":2},{"x":53,"y":38,"n":3},{"x":55,"y":38,"n":4},{"x":57,"y":38,"n":3},{"x":59,"y":38,"n":3},{"x":61,"y":38,"n":1},{"x":65,"y":38,"n":1},{"x":67,"y":38,"n":1},{"x":71,"y":38,"n":1},{"x":75,"y":38,"n":1},{"x":77,"y":38,"n":1},{"x":81,"y":38,"n":1},{"x":87,"y":38,"n":1},{"x":89,"y":38,"n":1},{"x":93,"y":38,"n":1},{"x":95,"y":38,"n":1},{"x":99,"y":38,"n":1},{"x":105,"y":38,"n":4},{"x":107,"y":38,"n":4},{"x":109,"y":38,"n":1},
{"x":2,"y":39,"n":1,"p":4},{"x":4,"y":39,"n":2,"p":4},{"x":10,"y":39,"n":1},{"x":28,"y":39,"n":1},{"x":34,"y":39,"n":1},{"x":56,"y":39,"n":1},{"x":70,"y":39,"n":1},{"x":74,"y":39,"n":1},{"x":82,"y":39,"n":1},{"x":86,"y":39,"n":1},{"x":104,"y":39,"n":1},{"x":106,"y":39,"n":4},{"x":108,"y":39,"n":2},
{"x":3,"y":40,"n":1,"p":4},{"x":5,"y":40,"n":1,"p":4},{"x":37,"y":40,"n":1},{"x":77,"y":40,"n":1},{"x":81,"y":40,"n":1},{"x":105,"y":40,"n":3},{"x":107,"y":40,"n":2},
{"x":100,"y":41,"n":1},{"x":106,"y":41,"n":1}
]},
"layer":[
{"encoding":{"x":{"field":"x","type":"quantitative","axis":null,"scale":{"domain":[-31.426,31.345],"range":[0,1541],"nice":false,"zero":false}},"y":{"field":"y","type":"quantitative","axis":null,"scale":{"domain":[-3.218,35.275],"range":[945,0],"nice":false,"zero":false}},"order":{"field":"o","type":"quantitative"}},
"layer":[
{"data":{"name":"court"},"mark":{"type":"line","color":"#000000","strokeWidth":1.6},"encoding":{"detail":{"field":"part","type":"nominal"}}},
{"data":{"name":"curves"},"mark":{"type":"line","color":"#000000","strokeWidth":1.6,"interpolate":"catmull-rom"},"encoding":{"detail":{"field":"part","type":"nominal"}}},
{"data":{"name":"lower"},"mark":{"type":"line","color":"#000000","strokeWidth":1.6,"strokeDash":[28,29],"strokeDashOffset":14,"interpolate":"catmull-rom"},"encoding":{}}
]},
{"encoding":{"x":{"field":"x","type":"quantitative","axis":null,"scale":{"domain":[-13.943,122.913],"range":[0,1541],"nice":false,"zero":false}},"y":{"field":"y","type":"quantitative","axis":null,"scale":{"domain":[-0.8718,47.59],"range":[0,945],"nice":false,"zero":false}}},
"layer":[
{"data":{"name":"hex"},"transform":[{"filter":"datum.n==4"}],"mark":{"type":"point","filled":true,"opacity":1,"shape":"M0,-1L0.866,-0.5L0.866,0.5L0,1L-0.866,0.5L-0.866,-0.5Z","size":750},"encoding":{"color":{"condition":{"test":"datum.p==4","value":"#03316e"},"value":"#0562d8"}}},
{"data":{"name":"hex"},"transform":[{"filter":"datum.n==2||datum.n==3"}],"mark":{"type":"point","filled":true,"opacity":1,"shape":"M0,-1L0.866,-0.5L0.866,0.5L0,1L-0.866,0.5L-0.866,-0.5Z","stroke":"#ffffff","strokeWidth":1.2},"encoding":{"size":{"field":"n","type":"ordinal","legend":null,"scale":{"domain":[2,3],"range":[180,490]}},"color":{"condition":{"test":"datum.p==4","value":"#03316e"},"value":"#0562d8"}}},
{"data":{"name":"hex"},"transform":[{"filter":"datum.n==1"}],"mark":{"type":"point","filled":true,"opacity":1,"shape":"M0,-1L0.866,-0.5L0.866,0.5L0,1L-0.866,0.5L-0.866,-0.5Z","size":20},"encoding":{"color":{"condition":{"test":"datum.p==4","value":"#03316e"},"value":"#0562d8"}}},
{"data":{"name":"key"},"mark":{"type":"point","filled":true,"opacity":1,"shape":"M0,-1L0.866,-0.5L0.866,0.5L0,1L-0.866,0.5L-0.866,-0.5Z","size":400},"encoding":{"color":{"field":"p","type":"ordinal","legend":null,"scale":{"domain":[1,2,3,4,5],"range":["#7fd2ff","#64a2e8","#0a66d8","#03316e","#02204a"]}}}},
{"data":{"name":"labels"},"mark":{"type":"text","font":"Lato","fontWeight":500,"color":"#111111","align":"center","baseline":"middle"},"encoding":{"text":{"field":"t","type":"nominal"},"size":{"field":"z","type":"quantitative","scale":null}}}
]}
],
"resolve":{"scale":{"x":"independent","y":"independent"}}}
